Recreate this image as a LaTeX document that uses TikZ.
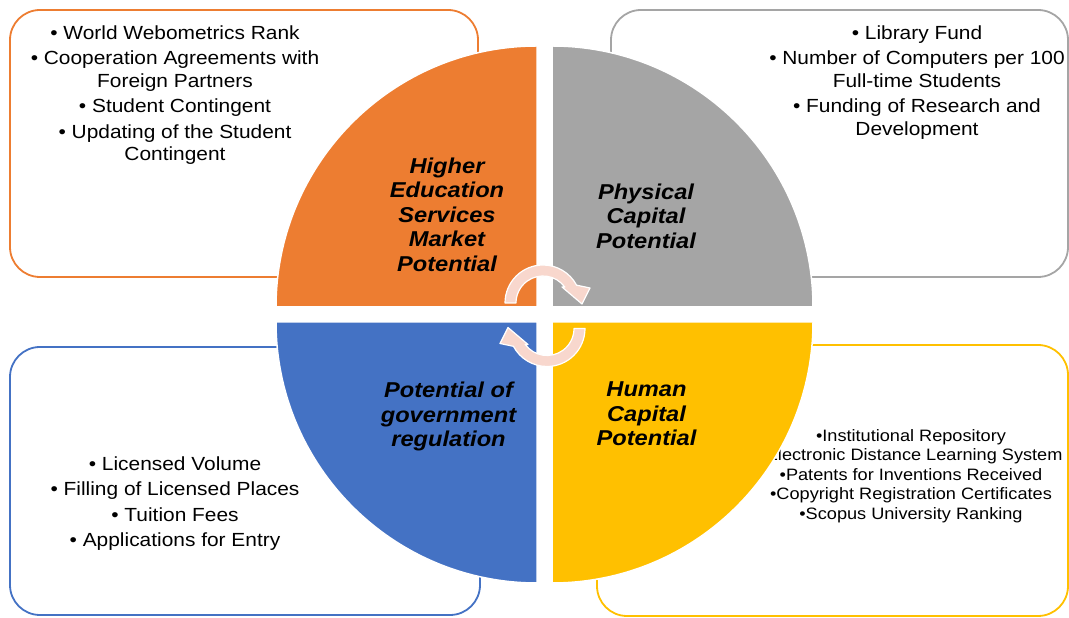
\documentclass[tikz,border=0pt]{standalone}
\usepackage{fontspec}
\setmainfont[FakeStretch=1.1]{Liberation Sans}
\definecolor{marketorange}{HTML}{ED7D31}
\definecolor{physgray}{HTML}{A5A5A5}
\definecolor{govblue}{HTML}{4472C4}
\definecolor{humanyellow}{HTML}{FFC000}
\definecolor{turnpink}{HTML}{F8D7CD}
\begin{document}
\begin{tikzpicture}[x=1pt,y=1pt,line join=round,
box/.style={rounded corners=30pt,line width=1.8pt},
list/.style={anchor=north,align=center,inner sep=0pt,font=\fontsize{19}{22.5}\selectfont},
title/.style={anchor=north,align=center,inner sep=0pt,font=\fontsize{21.5}{24.5}\selectfont\bfseries\itshape},
quarter/.style={draw=white,line width=1.5pt},
turn/.style={fill=turnpink,draw=white,line width=1.2pt}]
\useasboundingbox (0,0) rectangle (1069,618);
% boxes behind the circle
\draw[box,marketorange] (10,341) rectangle (478,608);
\draw[box,physgray] (611,341) rectangle (1068,608);
\draw[box,govblue] (10,3) rectangle (480,271);
\draw[box,humanyellow] (597,2) rectangle (1068,273);
\path (175,592.6)node[list](marketlist){• World Webometrics Rank\\[3pt]• Cooperation Agreements with\\Foreign Partners\\[3pt]• Student Contingent\\[3pt]• Updating of the Student\\Contingent}
(917,592.6)node[list](physlist){• Library Fund\\[3pt]• Number of Computers per 100\\Full-time Students\\[3pt]• Funding of Research and\\Development}
(175,161.6)node[list](govlist){• Licensed Volume\\[3pt]• Filling of Licensed Places\\[3pt]• Tuition Fees\\[3pt]• Applications for Entry}
(911,188.8)node[list,font=\fontsize{16.5}{19.5}\selectfont](humanlist){•Institutional Repository\\•Electronic Distance Learning System\\•Patents for Inventions Received\\•Copyright Registration Certificates\\•Scopus University Ranking};
% the four quarters
\path[fill=marketorange,quarter] (537,311) -- (276,311) arc[start angle=180,end angle=90,radius=261] -- cycle;
\path[fill=physgray,quarter] (552,311) -- (552,572) arc[start angle=90,end angle=0,radius=261] -- cycle;
\path[fill=govblue,quarter] (537,296) -- (537,35) arc[start angle=270,end angle=180,radius=261] -- cycle;
\path[fill=humanyellow,quarter] (552,296) -- (813,296) arc[start angle=0,end angle=-90,radius=261] -- cycle;
\path (447,460.4)node[title](market){Higher\\Education\\Services\\Market\\Potential}
(646,434.4)node[title](physical){Physical\\Capital\\Potential}
(448.5,236)node[title](gov){Potential of\\government\\regulation}
(646.5,236)node[title](human){Human\\Capital\\Potential};
% turning arrows
\foreach \cx/\cy/\rot in {543/315/0,547/289.5/180}
\path[turn,shift={(\cx,\cy)},rotate=\rot] (180:38) arc[start angle=180,end angle=28,radius=38] -- (47,15) -- (39,-1) -- (19,16) -- (36:27) arc[start angle=36,end angle=180,radius=27] -- cycle;
\end{tikzpicture}
\end{document}
